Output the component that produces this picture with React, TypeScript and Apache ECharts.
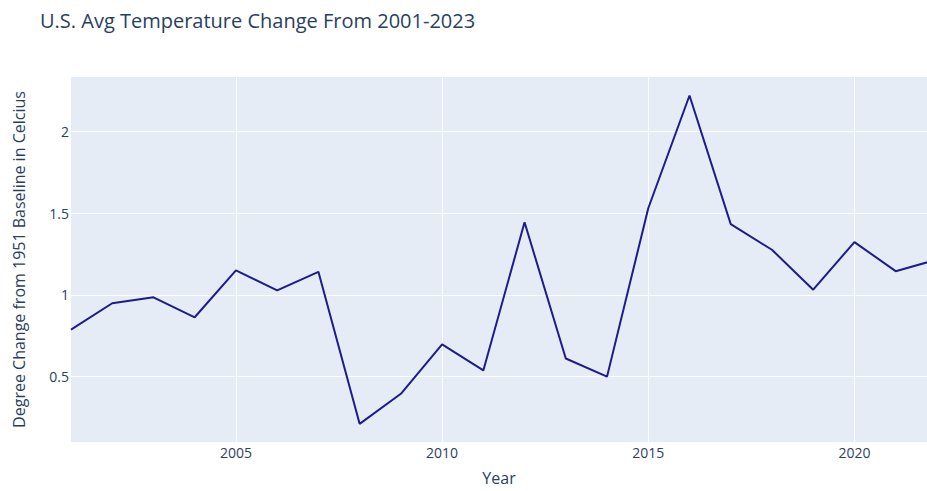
import React, { useEffect, useRef } from "react";
import * as echarts from "echarts";

const years = [2001, 2002, 2003, 2004, 2005, 2006, 2007, 2008, 2009, 2010, 2011, 2012, 2013, 2014, 2015, 2016, 2017, 2018, 2019, 2020, 2021, 2022];
const tempChange = [0.788, 0.949, 0.985, 0.863, 1.15, 1.028, 1.141, 0.211, 0.395, 0.697, 0.538, 1.444, 0.611, 0.5, 1.53, 2.22, 1.433, 1.276, 1.032, 1.323, 1.145, 1.216];
const xTicks = [2005, 2010, 2015, 2020];
const yTicks = [0.5, 1, 1.5, 2];

const FONT = '"Open Sans", verdana, arial, sans-serif';
const TEXT = "#2a3f5f";

export default function App() {
  const ref = useRef<HTMLDivElement>(null);
  useEffect(() => {
    if (!ref.current) return;
    const chart = echarts.init(ref.current, undefined, { renderer: "svg" });
    chart.setOption({
      animation: false,
      backgroundColor: "#ffffff",
      title: {
        text: "U.S. Avg Temperature Change From 2001-2023",
        left: 35,
        top: 5,
        textStyle: { fontFamily: FONT, fontSize: 20, fontWeight: "normal", color: TEXT },
      },
      grid: { left: 71, top: 77, right: 0, bottom: 46, backgroundColor: "#E5ECF6", show: true, borderWidth: 0 },
      xAxis: {
        type: "value",
        min: 2001,
        max: 2021.76,
        name: "Year",
        nameLocation: "middle",
        nameGap: 28,
        nameTextStyle: { fontFamily: FONT, fontSize: 16, color: TEXT },
        axisLine: { show: false },
        axisTick: { show: false, customValues: xTicks },
        axisLabel: { customValues: xTicks, fontFamily: FONT, fontSize: 14, color: TEXT, margin: 3, formatter: (v: number) => String(v) },
        splitLine: { show: true, lineStyle: { color: "#ffffff", width: 1 } },
      },
      yAxis: {
        type: "value",
        min: 0.1,
        max: 2.333,
        name: "Degree Change from 1951 Baseline in Celcius",
        nameLocation: "middle",
        nameGap: 44,
        nameTextStyle: { fontFamily: FONT, fontSize: 16, color: TEXT },
        axisLine: { show: false },
        axisTick: { show: false, customValues: yTicks },
        axisLabel: { customValues: yTicks, fontFamily: FONT, fontSize: 14, color: TEXT, margin: 2, formatter: (v: number) => String(v) },
        splitLine: { show: true, lineStyle: { color: "#ffffff", width: 1 } },
      },
      series: [
        {
          type: "line",
          data: years.map((y, i) => [y, tempChange[i]]),
          showSymbol: false,
          symbol: "none",
          clip: true,
          lineStyle: { color: "#1c1c8c", width: 2 },
        },
      ],
    });
    return () => chart.dispose();
  }, []);
  return <div ref={ref} style={{ position: "fixed", left: 0, top: 0, width: 927, height: 491 }} />;
}
